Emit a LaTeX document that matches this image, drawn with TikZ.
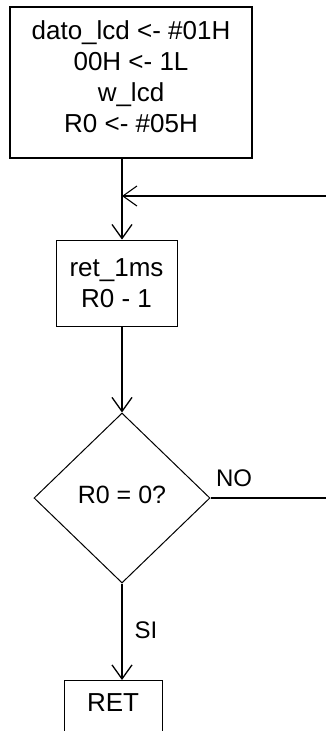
\documentclass[tikz,border=0pt]{standalone}
\usepackage{fontspec}
\setmainfont{Liberation Sans}
\usetikzlibrary{positioning,shapes.geometric,arrows.meta}

\begin{document}
\begin{tikzpicture}[x=1pt, y=-1pt,
    b/.style={rectangle, draw=black, inner sep=0pt, align=center,
      font=\fontsize{26}{31}\selectfont},
    d/.style={diamond, draw=black, line width=1pt, inner sep=0pt,
      minimum width=176pt, minimum height=170pt, font=\fontsize{25}{30}\selectfont},
    lbl/.style={font=\fontsize{24}{28}\selectfont},
    a/.style={-{Straight Barb[length=14pt, width=20pt]}, line width=1.3pt}]
    \useasboundingbox (0,0) rectangle (325,731);
    \node[b, line width=1.8pt, minimum width=242pt, minimum height=151pt] (ini) at (131,82.5)
      {dato\_lcd <- \#01H\\00H <- 1L\\w\_lcd\\R0 <- \#05H\\[-20pt]};
    \node[b, line width=0.9pt, minimum width=121pt, minimum height=86pt] (ret) at (116.5,283)
      {ret\_1ms\\R0 - 1};
    \node[d] (cmp) at (122,498) {\raisebox{6pt}{R0 = 0?}};
    \node[b, line width=1pt, minimum width=98pt, minimum height=80pt, anchor=north] (fin) at (113,680)
      {\raisebox{36pt}{RET}};
    \node[lbl] (no) at (234,478) {NO};
    \node[lbl] (si) at (146,630) {SI};
    \coordinate (lp) at (122,196);
    \coordinate (rt) at (336,196);
    \draw[a] (ini.south -| cmp) -- (ret.north -| cmp);
    \draw[a] (ret.south -| cmp) -- (cmp.north);
    \draw[a] (cmp.south) -- (fin.north -| cmp);
    \draw[a, line width=1.1pt] (cmp.east) -- (cmp.east -| rt) -- (rt) -- (lp);
  \end{tikzpicture}
\end{document}
